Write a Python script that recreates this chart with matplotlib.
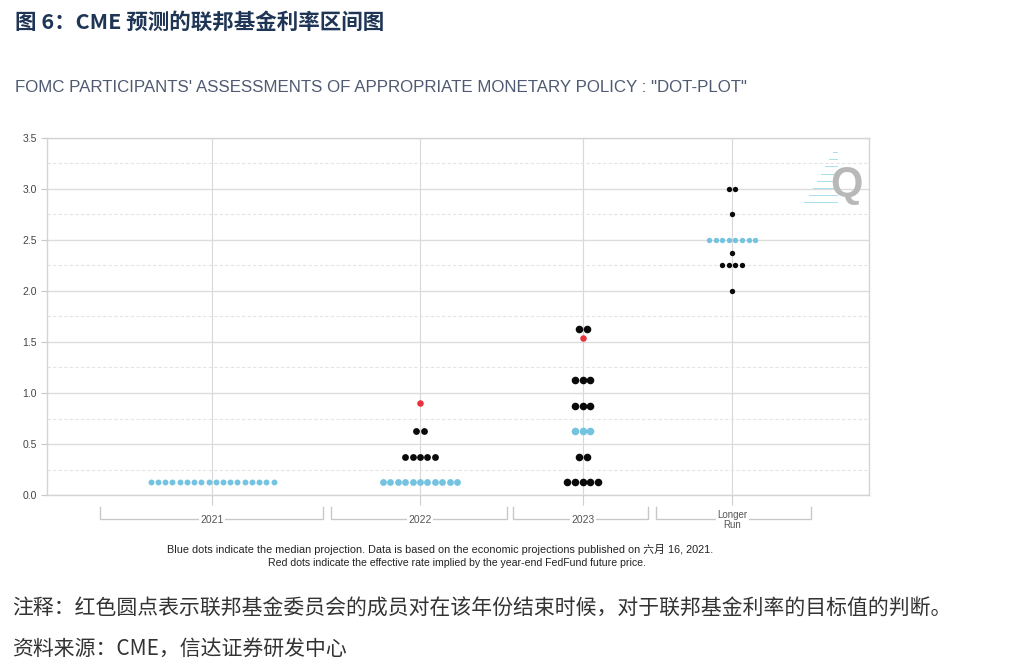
import matplotlib
matplotlib.use("Agg")
import numpy as np
from matplotlib import pyplot as plt

plt.rcParams['font.family'] = ['Liberation Sans', 'Noto Sans CJK SC', 'DejaVu Sans']

# categories and their centre positions (fraction of plot width)
categories = ['2021', '2022', '2023', 'Longer\nRun']
cat_pos = [0.201, 0.454, 0.652, 0.834]
bracket_lo = [0.065, 0.346, 0.567, 0.741]
bracket_hi = [0.336, 0.560, 0.732, 0.930]

# participants' dots: (rate, count) per category
dots_2021 = [(0.125, 18)]
dots_2022 = [(0.125, 11), (0.375, 5), (0.625, 2)]
dots_2023 = [(0.125, 5), (0.375, 2), (0.625, 3), (0.875, 3), (1.125, 3), (1.625, 2)]
dots_lr = [(2.0, 1), (2.25, 4), (2.375, 1), (2.5, 8), (2.75, 1), (3.0, 2)]
all_dots = [dots_2021, dots_2022, dots_2023, dots_lr]

# median rows (blue)
medians = [0.125, 0.125, 0.625, 2.5]

# red dots: implied rate from futures
red_cat = [1, 2]
red_rate = [0.90, 1.54]

dot_step = [0.0088, 0.0090, 0.0095, 0.0080]
dot_size = [18, 24, 30, 15]

BLUE = '#74c3e1'
RED = '#e8323c'

fig = plt.figure(figsize=(10.23, 6.65), dpi=100)
ax = fig.add_axes([0.046, 0.2556, 0.803, 0.537])

for i, rows in enumerate(all_dots):
    for rate, n in rows:
        xs = cat_pos[i] + (np.arange(n) - (n - 1) / 2) * dot_step[i]
        col = BLUE if rate == medians[i] else '#0a0a0a'
        ax.scatter(xs, [rate] * n, s=dot_size[i], color=col, zorder=3, linewidths=0)

for c, r in zip(red_cat, red_rate):
    ax.scatter([cat_pos[c]], [r], s=22, color=RED, zorder=4, linewidths=0)

ax.set_xlim(0, 1)
ax.set_ylim(0, 3.5)
ax.set_yticks(np.arange(0, 3.51, 0.5))
ax.set_yticklabels(['%.1f' % v for v in np.arange(0, 3.51, 0.5)])
ax.set_yticks(np.arange(0.25, 3.5, 0.5), minor=True)
ax.tick_params(axis='y', which='major', labelsize=7.5, length=4, width=0.8,
               colors='#c8c8c8', labelcolor='#444444')
ax.tick_params(axis='y', which='minor', length=0)
ax.grid(axis='y', which='major', color='#dcdcdc', lw=1.0)
ax.grid(axis='y', which='minor', color='#e4e4e4', lw=0.8, ls=(0, (3, 2)))
ax.set_xticks(cat_pos)
ax.set_xticklabels([])
ax.tick_params(axis='x', length=7, color='#cfcfcf', width=0.8)
ax.grid(axis='x', color='#d8d8d8', lw=0.8)
ax.set_axisbelow(True)
for s in ax.spines.values():
    s.set_color('#d4d4d4')
    s.set_linewidth(1.0)

# category brackets under the axis
tr = ax.get_xaxis_transform()
for lab, x, lo, hi in zip(categories, cat_pos, bracket_lo, bracket_hi):
    ax.plot([lo, lo, hi, hi], [-0.033, -0.068, -0.068, -0.033], transform=tr,
            clip_on=False, color='#c8c8c8', lw=1.0)
    fs = 7 if '\n' in lab else 7.5
    ax.text(x, -0.070, lab, transform=tr, ha='center', va='center', fontsize=fs,
            color='#555555', linespacing=1.0,
            bbox=dict(facecolor='white', edgecolor='none', pad=1))

# logo
for k in range(8):
    ax.plot([0.957 - 0.005 * k, 0.962], [0.96 - 0.02 * k] * 2, transform=ax.transAxes,
            color='#a8e0ee', lw=0.7)
ax.text(0.973, 0.868, 'Q', transform=ax.transAxes, ha='center', va='center',
        fontsize=30, fontweight='bold', color='#b8b8b8')

fig.text(0.015, 0.967, '图 6：CME 预测的联邦基金利率区间图', fontsize=15.5, fontweight='bold',
         color='#1f3556', family=['Noto Sans CJK SC', 'DejaVu Sans'], va='center')
fig.text(0.015, 0.869, 'FOMC PARTICIPANTS\' ASSESSMENTS OF APPROPRIATE MONETARY POLICY : "DOT-PLOT"',
         fontsize=12.2, color='#4f5a72', va='center')

foot_fam = ['Liberation Sans Narrow', 'Liberation Sans', 'Noto Sans CJK SC']
fig.text(0.430, 0.173, 'Blue dots indicate the median projection. Data is based on the economic '
         'projections published on 六月 16, 2021.', fontsize=7.8, color='#222222',
         ha='center', va='center', family=foot_fam)
fig.text(0.447, 0.153, 'Red dots indicate the effective rate implied by the year-end FedFund future price.',
         fontsize=7.6, color='#222222', ha='center', va='center', family=foot_fam)

cjk = ['Noto Sans CJK SC', 'DejaVu Sans']
fig.text(0.012, 0.085, '注释：红色圆点表示联邦基金委员会的成员对在该年份结束时候，对于联邦基金利率的目标值的判断。',
         fontsize=15, color='#333333', va='center', family=cjk)
fig.text(0.012, 0.025, '资料来源：CME，信达证券研发中心', fontsize=15, color='#333333',
         va='center', family=cjk)

fig.savefig('out.png', dpi=100)
